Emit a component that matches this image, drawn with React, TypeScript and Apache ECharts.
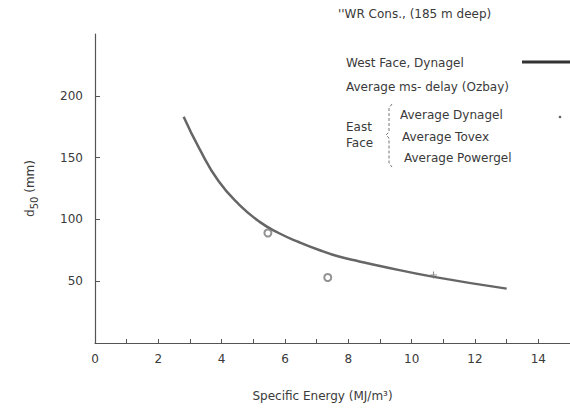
import React, { useEffect, useRef } from "react";
import * as echarts from "echarts";

const energy = [2.8, 3.3, 3.9, 4.55, 5.2, 5.8, 6.45, 7.1, 7.7, 8.35, 9.0, 10.7, 13.0];
const d50 = [183, 157, 131, 112, 98, 89, 81.5, 75, 70, 66, 62.3, 53.5, 44];
const pointX = [5.46, 7.35, 10.69];
const pointY = [89, 53, 55];
const pointSymbols = ["emptyCircle", "emptyCircle", "path://M5,0 L5,10 M0,5 L10,5"];

const FONT = "DejaVu Sans";
const TXT = "#3a3a3a";

export default function App() {
  const ref = useRef<HTMLDivElement>(null);
  useEffect(() => {
    if (!ref.current) return;
    const chart = echarts.init(ref.current, undefined, { renderer: "svg" });
    const t = (x: number, y: number, text: string, extra: any = {}) => ({
      type: "text",
      x,
      y,
      style: { text, font: `12px "${FONT}"`, fill: TXT, textVerticalAlign: "middle", ...extra },
    });
    chart.setOption({
      animation: false,
      backgroundColor: "#fff",
      grid: { left: 95, right: 0, top: 34, bottom: 69 },
      xAxis: {
        type: "value",
        min: 0,
        max: 15,
        interval: 1,
        name: "Specific Energy (MJ/m³)",
        nameLocation: "middle",
        nameGap: 47,
        nameTextStyle: { fontFamily: FONT, fontSize: 12, color: TXT, padding: [0, 20, 0, 0] },
        axisLine: { lineStyle: { color: "#555", width: 1.2 } },
        axisTick: { inside: true, length: 4, lineStyle: { color: "#555" } },
        axisLabel: {
          fontFamily: FONT,
          fontSize: 12,
          color: TXT,
          margin: 10,
          showMaxLabel: false,
          formatter: (v: number) => (v % 2 === 0 ? String(v) : ""),
        },
        splitLine: { show: false },
      },
      yAxis: {
        type: "value",
        min: 0,
        max: 250,
        interval: 50,
        name: "{a|d}{s|50}{a| (mm)}",
        nameLocation: "middle",
        nameGap: 56,
        nameRotate: 90,
        nameTextStyle: {
          rich: {
            a: { fontFamily: FONT, fontSize: 12, color: TXT },
            s: { fontFamily: FONT, fontSize: 10, color: TXT, padding: [8, 0, 0, 0] },
          },
        },
        axisLine: { show: true, lineStyle: { color: "#555", width: 1.2 } },
        axisTick: { show: true, length: 5, inside: true, lineStyle: { color: "#555" } },
        axisLabel: {
          fontFamily: FONT,
          fontSize: 12,
          color: TXT,
          margin: 12,
          showMinLabel: false,
          showMaxLabel: false,
        },
        splitLine: { show: false },
      },
      series: [
        {
          name: "West Face, Dynagel",
          type: "line",
          smooth: 0.5,
          showSymbol: false,
          data: energy.map((e, i) => [e, d50[i]]),
          lineStyle: { color: "#666", width: 2.5 },
        },
        {
          name: "East Face averages",
          type: "scatter",
          data: pointX.map((x, i) => ({ value: [x, pointY[i]], symbol: pointSymbols[i] })),
          symbolSize: 7,
          z: 3,
          itemStyle: { color: "#777", borderColor: "#777", borderWidth: 1.2 },
        },
      ],
      graphic: [
        t(338, 14, "''WR Cons., (185 m deep)"),
        t(346, 63, "West Face, Dynagel"),
        { type: "line", shape: { x1: 522, y1: 62, x2: 570, y2: 62 }, style: { stroke: "#333", lineWidth: 3 } },
        t(346, 87, "Average ms- delay (Ozbay)"),
        t(346, 127, "East"),
        t(346, 143, "Face"),
        {
          type: "polyline",
          shape: { points: [[392, 104], [389, 108], [389, 132], [386, 135], [389, 138], [389, 163], [392, 167]] },
          style: { stroke: "#777", lineWidth: 1, fill: null, lineDash: [3, 2] },
        },
        t(400, 115, "Average Dynagel"),
        { type: "circle", shape: { cx: 560, cy: 117, r: 1.3 }, style: { fill: "#666" } },
        t(402, 137, "Average Tovex"),
        t(404, 158, "Average Powergel"),
      ],
    });
    return () => chart.dispose();
  }, []);
  return <div ref={ref} style={{ width: 570, height: 412, position: "absolute", left: 0, top: 0 }} />;
}
